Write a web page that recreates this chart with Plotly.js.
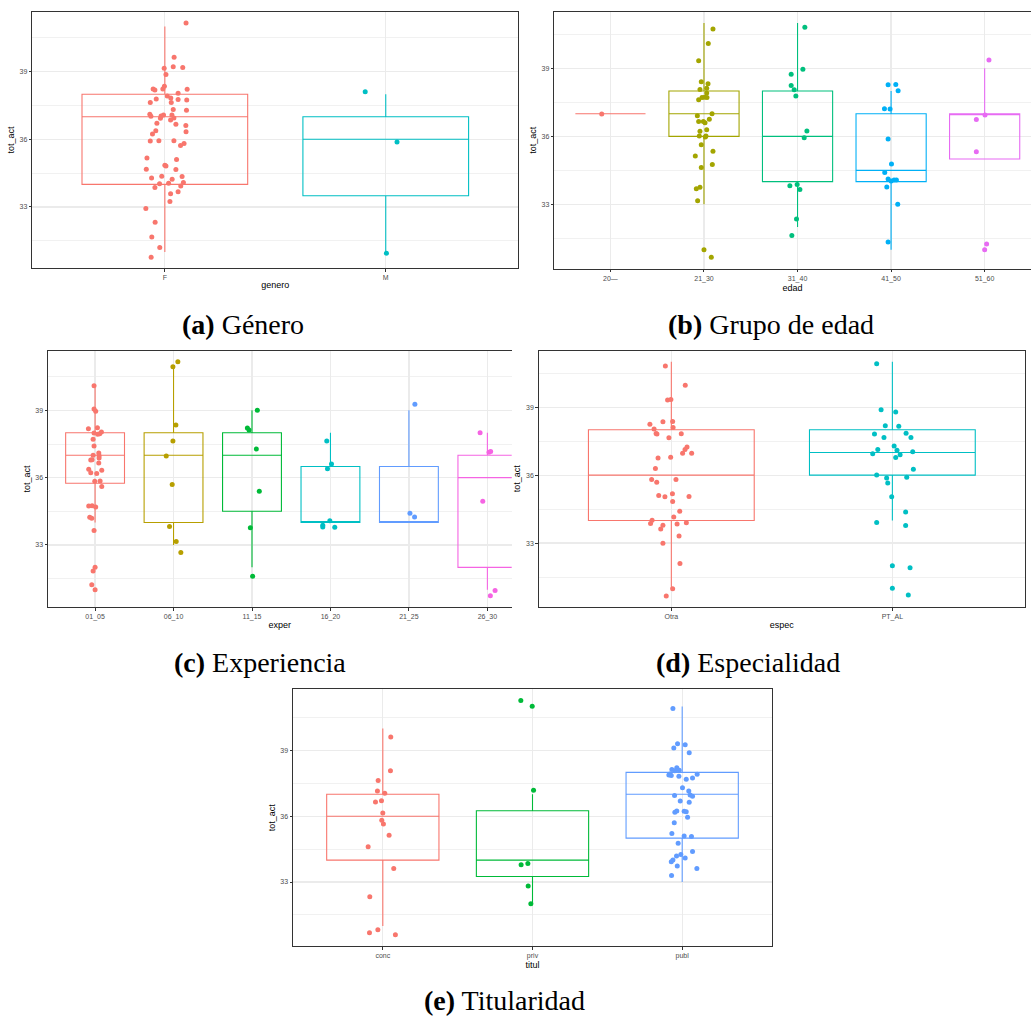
<!DOCTYPE html>
<html>
<head>
<meta charset="utf-8">
<script src="https://cdn.plot.ly/plotly-3.0.1.min.js"></script>
<style>
  html, body { margin: 0; padding: 0; background: #ffffff; }
  #chart { width: 1031px; height: 1016px; }
</style>
</head>
<body>
<div id="chart"></div>
<script>
// ---------------- DATA ----------------
// (a) genero
const generoCats = ['F', 'M'];
const generoQ1 = [34, 33.5];
const generoMed = [37, 36];
const generoQ3 = [38, 37];
const generoLo = [31, 31];
const generoHi = [41, 38];
const generoF_y = [41.16,39.64,39.15,39.22,39.19,38.87,38.23,38.19,38.23,38.35,38.22,38.04,37.79,37.92,37.83,37.77,37.74,37.63,37.63,37.32,37.29,37.11,37.02,37.03,37.08,37.08,36.93,36.86,36.95,36.71,36.67,36.61,36.38,36.34,36.24,35.93,35.94,35.94,35.82,35.73,35.17,35.10,34.85,34.82,34.67,34.66,34.29,34.36,34.23,34.35,34.03,34.05,34.08,33.93,33.86,33.68,33.59,33.24,32.93,32.32,31.67,31.20,30.77];
const generoF_jit = [.096,.042,-.003,.038,.081,.005,-.053,-.045,-.009,-.002,.101,.060,-.039,.011,.027,.060,.099,-.066,.029,.038,.098,-.068,-.063,-.017,-.006,.032,-.020,.026,.041,-.036,.050,.095,-.041,.096,-.056,-.066,-.027,.041,.087,.071,-.081,.053,0,.005,-.084,.050,-.060,-.014,.033,.078,-.024,.017,.084,.072,-.045,.060,.026,.023,-.086,-.044,-.059,-.023,-.062];
const generoM_y = [38.11, 35.88, 30.95];
const generoM_jit = [-.093, .051, .003];

// (b) edad
const edadCats = ['20—', '21_30', '31_40', '41_50', '51_60'];
const edadQ1 = [37, 36, 34, 34, 35];
const edadMed = [37, 37, 36, 34.5, 37];
const edadQ3 = [37, 38, 38, 37, 37];
const edadLo = [37, 33, 32, 31, 35];
const edadHi = [37, 41, 41, 38, 39];
const edad20_y = [36.99];
const edad20_jit = [-.093];
const edad21_y = [40.74,40.10,39.34,38.41,38.32,38.07,38.12,37.91,37.62,37.71,37.72,37.71,37.0,36.91,36.66,36.65,36.60,36.75,36.22,36.29,36.01,36.01,35.97,35.63,35.34,35.13,34.76,34.63,33.75,33.69,33.16,31.0,30.66];
const edad21_jit = [.096,.046,-.057,-.029,.043,-.043,.029,.029,-.057,-.021,.007,.032,.086,-.071,-.057,-.007,.011,.057,-.043,.029,-.050,.021,.014,-.029,.096,-.093,.089,-.029,-.043,-.082,-.068,0,.078];
const edad31_y = [40.81,38.96,38.74,38.24,38.06,37.78,36.24,35.94,33.82,33.88,33.65,32.35,31.63];
const edad31_jit = [.078,.057,-.068,-.068,-.036,-.018,.100,.071,-.082,-.004,.025,-.011,-.061];
const edad41_y = [38.28,38.29,38.01,37.22,37.21,35.88,34.78,34.41,34.12,34.03,34.07,34.07,33.76,33.0,31.34];
const edad41_jit = [-.032,.050,.075,-.071,-.011,-.032,.004,-.068,-.032,0,.032,.057,-.046,.071,-.032];
const edad51_y = [39.37,36.74,36.94,35.32,31.25,31.0];
const edad51_jit = [.046,-.089,.004,-.089,.021,0];

// (c) exper
const experCats = ['01_05', '06_10', '11_15', '16_20', '21_25', '26_30'];
const experQ1 = [35.75, 34, 34.5, 34, 34, 32];
const experMed = [37, 37, 37, 34, 34, 36];
const experQ3 = [38, 38, 38, 36.5, 36.5, 37];
const experLo = [34, 33, 32, 34, 34, 31];
const experHi = [40, 41, 39, 38, 39, 38];
const exper01_y = [40.10,39.06,38.96,38.18,38.23,37.99,37.93,37.96,38.03,37.71,37.41,37.10,37.0,36.98,36.80,36.79,36.88,36.65,36.37,36.22,36.18,36.33,35.84,35.85,35.61,34.74,34.75,34.69,34.23,34.19,33.64,32.0,31.84,31.23,31.0];
const exper01_jit = [-.013,-.013,.008,-.085,.030,-.013,.034,.059,.081,-.025,-.013,.047,-.025,.051,-.038,-.055,.051,.047,-.081,-.055,.021,.085,-.004,.064,.085,-.081,-.038,.008,-.068,-.042,-.013,0,-.025,-.042,0];
const exper06_y = [41.17,40.95,38.35,37.63,36.97,35.70,33.82,33.15,32.66];
const exper06_jit = [.055,-.008,.030,-.008,-.093,-.017,-.051,.034,.093];
const exper11_y = [39.01,38.21,38.12,37.28,35.39,33.77,31.60];
const exper11_jit = [.068,-.059,-.038,.055,.093,-.021,.008];
const exper16_y = [37.63,36.61,36.40,34.08,33.88,33.80,33.79];
const exper16_jit = [-.047,.013,-.038,-.008,-.098,-.098,.055];
const exper21_y = [39.27,34.41,34.25];
const exper21_jit = [.076,.013,.072];
const exper26_y = [38.0,37.13,37.17,34.95,30.97,30.73];
const exper26_jit = [-.093,.021,.042,-.059,.098,.038];

// (d) espec
const especCats = ['Otra', 'PT_AL'];
const especQ1 = [34, 36];
const especMed = [36, 37];
const especQ3 = [38, 38];
const especLo = [31, 34];
const especHi = [41, 41];
const especOtra_y = [40.82,39.97,39.32,39.34,38.24,38.03,37.84,37.81,38.35,38.37,38.10,37.82,37.65,37.24,37.13,36.96,36.96,36.75,36.79,36.29,35.81,35.69,35.81,35.10,35.04,35.18,35.06,34.84,34.41,34.15,34.01,33.87,33.79,33.84,33.90,33.62,33.31,32.99,32.10,30.99,30.66];
const especOtra_jit = [-.027,.063,-.017,-.002,-.097,-.078,-.069,-.065,-.038,.006,.008,.045,-.011,.071,.062,.051,.092,-.060,-.003,-.072,-.089,-.066,.021,-.057,-.029,.005,.080,.006,.038,.011,-.087,-.094,-.038,.026,.068,-.048,.035,-.038,.039,.006,-.023];
const especPT_y = [40.91,38.88,38.79,38.18,38.16,37.81,37.85,37.66,37.66,37.28,37.13,37.10,37.03,36.94,36.90,36.78,36.26,36.01,35.87,35.91,35.65,35.04,34.37,33.91,33.78,32.0,31.91,31.01,30.71];
const especPT_jit = [-.071,-.051,.015,-.032,.029,-.081,.062,-.038,.084,.008,-.066,.021,.092,-.089,.035,.015,.095,-.071,-.026,.065,-.021,-.003,.060,-.071,.060,0,.080,0,.072];

// (e) titul
const titulCats = ['conc', 'priv', 'publ'];
const titulQ1 = [34, 33.25, 35];
const titulMed = [36, 34, 37];
const titulQ3 = [37, 36.25, 38];
const titulLo = [31, 32, 33];
const titulHi = [40, 37, 41];
const titulConc_y = [39.61,38.07,37.63,37.15,37.05,36.71,36.65,36.15,35.82,35.65,35.13,34.61,33.62,32.33,30.82,30.69,30.60];
const titulConc_jit = [.053,.051,-.031,-.036,.013,-.009,-.049,0,-.007,.004,.042,-.098,.073,-.087,-.033,-.089,.084];
const titulPriv_y = [41.28,41.01,37.18,33.79,33.85,32.82,32.01];
const titulPriv_jit = [-.078,-.002,.007,-.076,-.031,-.029,-.011];
const titulPubl_y = [40.91,39.30,39.26,39.11,38.89,38.13,38.21,38.10,38.07,37.92,37.88,37.86,37.91,37.82,37.69,37.74,37.30,37.15,36.95,36.97,36.91,36.69,36.64,36.18,36.24,36.23,36.20,35.95,35.70,35.21,35.10,35.07,34.77,34.39,34.25,34.19,34.10,33.93,34.01,33.73,33.62,33.30];
const titulPubl_jit = [-.062,-.031,.020,-.056,.047,-.069,-.036,-.020,-.049,-.082,-.089,-.073,.100,-.022,.027,.069,.002,.044,-.051,.053,.069,-.013,.047,-.049,-.036,.013,.027,.036,-.053,-.069,.013,.062,-.027,.069,-.009,-.038,.020,-.073,-.062,-.033,.098,-.071];

const yTickVals = [33, 36, 39];
const yMinorVals = [31.5, 34.5, 37.5, 40.5];

// ---------------- STYLE ----------------
const hue2 = ['#F8766D', '#00BFC4'];
const hue3 = ['#F8766D', '#00BA38', '#619CFF'];
const hue5 = ['#F8766D', '#A3A500', '#00BF7D', '#00B0F6', '#E76BF3'];
const hue6 = ['#F8766D', '#B79F00', '#00BA38', '#00BFC4', '#619CFF', '#F564E3'];

const W = 1031, H = 1016;
const panels = [
  { key: '', xtitle: 'genero', cats: generoCats, q1: generoQ1, med: generoMed, q3: generoQ3, lo: generoLo, hi: generoHi,
    pts: [[generoF_y, generoF_jit], [generoM_y, generoM_jit]], colors: hue2,
    px: [32.3, 518.3], py: [11.7, 268.3], yr: [30.28, 41.66], xr: [-0.6, 1.6], rightBorder: true },
  { key: '2', xtitle: 'edad', cats: edadCats, q1: edadQ1, med: edadMed, q3: edadQ3, lo: edadLo, hi: edadHi,
    pts: [[edad20_y, edad20_jit], [edad21_y, edad21_jit], [edad31_y, edad31_jit], [edad41_y, edad41_jit], [edad51_y, edad51_jit]], colors: hue5,
    px: [554.3, 1030.5], py: [11.7, 268.7], yr: [30.16, 41.5], xr: [-0.6, 4.49], rightBorder: false },
  { key: '3', xtitle: 'exper', cats: experCats, q1: experQ1, med: experMed, q3: experQ3, lo: experLo, hi: experHi,
    pts: [[exper01_y, exper01_jit], [exper06_y, exper06_jit], [exper11_y, exper11_jit], [exper16_y, exper16_jit], [exper21_y, exper21_jit], [exper26_y, exper26_jit]], colors: hue6,
    px: [48, 511.7], py: [350.7, 607.3], yr: [30.22, 41.66], xr: [-0.6, 5.31], rightBorder: false },
  { key: '4', xtitle: 'espec', cats: especCats, q1: especQ1, med: especMed, q3: especQ3, lo: especLo, hi: especHi,
    pts: [[especOtra_y, especOtra_jit], [especPT_y, especPT_jit]], colors: hue2,
    px: [538.7, 1025], py: [350.7, 607], yr: [30.18, 41.49], xr: [-0.6, 1.6], rightBorder: true },
  { key: '5', xtitle: 'titul', cats: titulCats, q1: titulQ1, med: titulMed, q3: titulQ3, lo: titulLo, hi: titulHi,
    pts: [[titulConc_y, titulConc_jit], [titulPriv_y, titulPriv_jit], [titulPubl_y, titulPubl_jit]], colors: hue3,
    px: [293, 772], py: [689, 946.3], yr: [30.07, 41.80], xr: [-0.6, 2.6], rightBorder: true }
];

const tickFont = { family: 'Liberation Sans, Arial, sans-serif', size: 7, color: '#4D4D4D' };
const titleFont = { family: 'Liberation Sans, Arial, sans-serif', size: 9, color: '#000000' };
const gridC = '#EBEBEB';
const borderC = '#333333';

const traces = [];
const layout = {
  width: W, height: H,
  margin: { l: 0, r: 0, t: 0, b: 0 },
  paper_bgcolor: '#ffffff',
  plot_bgcolor: '#ffffff',
  showlegend: false,
  annotations: [],
  font: { family: 'Liberation Sans, Arial, sans-serif' }
};

panels.forEach(p => {
  const xa = 'x' + p.key, ya = 'y' + p.key;
  const xName = 'xaxis' + p.key, yName = 'yaxis' + p.key;
  p.cats.forEach((c, i) => {
    traces.push({
      type: 'box', orientation: 'v',
      x: [i], q1: [p.q1[i]], median: [p.med[i]], q3: [p.q3[i]],
      lowerfence: [p.lo[i]], upperfence: [p.hi[i]],
      width: 0.75, whiskerwidth: 0, boxpoints: false,
      line: { color: p.colors[i], width: 1.1 },
      fillcolor: 'rgba(255,255,255,0)',
      xaxis: xa, yaxis: ya, hoverinfo: 'skip', name: c
    });
  });
  p.cats.forEach((c, i) => {
    const ys = p.pts[i][0], js = p.pts[i][1];
    traces.push({
      type: 'scatter', mode: 'markers',
      x: js.map(d => i + d), y: ys,
      marker: { color: p.colors[i], size: 5, line: { width: 0 } },
      xaxis: xa, yaxis: ya, name: c, hoverinfo: 'y'
    });
  });
  layout[xName] = {
    domain: [p.px[0] / W, p.px[1] / W],
    range: p.xr, anchor: ya,
    tickmode: 'array', tickvals: p.cats.map((c, i) => i), ticktext: p.cats,
    showgrid: true, gridcolor: gridC, gridwidth: 1.2, zeroline: false,
    showline: true, mirror: true, linecolor: borderC, linewidth: 1,
    ticks: 'outside', ticklen: 2.5, tickwidth: 1, tickcolor: borderC,
    tickfont: tickFont,
    title: { text: p.xtitle, font: titleFont, standoff: 1 },
    fixedrange: true
  };
  layout[yName] = {
    domain: [1 - p.py[1] / H, 1 - p.py[0] / H],
    range: p.yr, anchor: xa,
    tickmode: 'array', tickvals: yTickVals,
    minor: { tickvals: yMinorVals, showgrid: true, gridcolor: gridC, gridwidth: 0.7, ticks: '' },
    showgrid: true, gridcolor: gridC, gridwidth: 1.2, zeroline: false,
    showline: true, mirror: p.rightBorder, linecolor: borderC, linewidth: 1,
    ticks: 'outside', ticklen: 2.5, tickwidth: 1, tickcolor: borderC,
    tickfont: tickFont,
    title: { text: 'tot_act', font: titleFont, standoff: 3 },
    fixedrange: true
  };
});

// Sub-figure captions
const captions = [
  { lab: '(a)', txt: 'Género', x: 243, y: 324 },
  { lab: '(b)', txt: 'Grupo de edad', x: 771, y: 324 },
  { lab: '(c)', txt: 'Experiencia', x: 260, y: 662 },
  { lab: '(d)', txt: 'Especialidad', x: 748, y: 662 },
  { lab: '(e)', txt: 'Titularidad', x: 504, y: 1000 }
];
captions.forEach(c => {
  layout.annotations.push({
    xref: 'paper', yref: 'paper', x: c.x / W, y: 1 - c.y / H,
    xanchor: 'center', yanchor: 'middle', showarrow: false,
    text: '<b>' + c.lab + '</b> ' + c.txt,
    font: { family: 'Liberation Serif, Times New Roman, serif', size: 28, color: '#000000' }
  });
});

Plotly.newPlot('chart', traces, layout, { staticPlot: true, displayModeBar: false });
</script>
</body>
</html>
